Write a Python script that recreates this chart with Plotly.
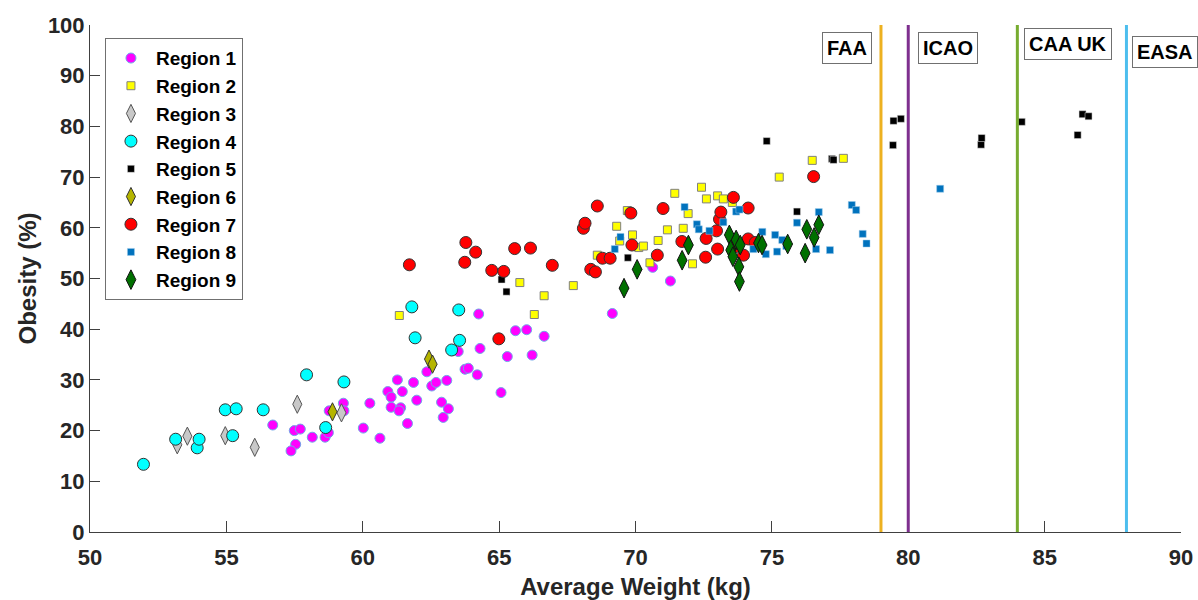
import plotly.graph_objects as go

# ---- data ----
r1_x = [56.70,57.49,57.71,57.54,57.37,58.15,58.62,58.74,58.77,59.29,59.31,60.02,60.26,60.63,60.92,61.04,61.04,61.27,61.45,61.39,61.33,61.64,61.86,61.98,62.35,62.53,62.69,63.08,62.89,63.14,62.95,63.50,63.75,63.87,64.20,64.25,64.30,65.07,65.30,65.60,66.01,66.21,66.65,69.15,70.63,71.28]
r1_y = [21.1,20.0,20.3,17.3,16.0,18.7,18.7,19.6,23.9,25.4,23.9,20.5,25.4,18.5,27.7,26.6,24.6,30.0,27.7,24.5,23.9,21.4,29.5,26.0,31.6,28.8,29.5,29.9,25.6,24.3,22.6,35.6,32.1,32.3,31.0,43.0,36.2,27.5,34.6,39.7,39.9,34.9,38.6,43.1,52.2,49.5]

r2_x = [61.34,65.76,66.65,66.29,67.72,68.60,69.31,69.42,69.70,69.89,70.12,70.29,70.53,70.83,71.17,71.44,71.75,71.93,72.09,72.42,72.60,73.01,73.22,73.55,75.27,76.48,77.62]
r2_y = [42.7,49.2,46.6,42.9,48.6,54.6,60.3,57.4,63.4,58.6,56.1,56.4,53.1,57.5,59.6,66.8,59.9,62.8,52.9,68.0,65.7,66.3,65.7,65.0,70.0,73.3,73.7]

r3_x = [53.20,53.57,54.96,56.04,57.60,59.22]
r3_y = [17.2,18.9,19.0,16.7,25.2,23.5]

r4_x = [51.96,53.14,53.93,54.00,54.96,55.23,55.36,56.35,57.94,58.64,59.31,61.80,61.92,63.26,63.52,63.55]
r4_y = [13.35,18.3,16.6,18.3,24.1,19.0,24.3,24.1,31.0,20.6,29.6,44.4,38.3,35.9,43.8,37.8]

r5_x = [65.09,65.27,69.72,74.81,75.92,77.20,77.26,79.44,79.46,79.73,82.67,82.69,84.16,86.21,86.39,86.61]
r5_y = [49.8,47.4,54.1,77.1,63.2,73.6,73.4,76.3,81.1,81.5,76.4,77.7,80.9,78.3,82.4,82.0]

r6_x = [58.89,62.43,62.56]
r6_y = [23.7,34.1,33.1]

r7_x = [61.71,63.74,63.78,64.14,64.73,64.99,65.17,65.57,66.15,66.95,68.09,68.15,68.36,68.53,68.60,68.79,69.07,69.83,69.87,70.80,71.01,71.70,72.57,72.59,72.97,73.01,73.08,73.13,73.59,73.67,73.96,74.13,74.13,74.39,76.53]
r7_y = [52.7,53.2,57.1,55.2,51.6,38.1,51.4,55.9,56.0,52.6,59.9,60.9,51.8,51.3,64.3,54.0,54.0,62.9,56.6,54.6,63.8,57.3,54.2,57.9,59.4,55.8,61.7,63.1,66.0,56.3,54.6,63.9,57.8,57.1,70.1]

r8_x = [69.24,69.45,71.80,72.25,72.32,72.71,73.22,73.69,73.81,74.32,74.65,74.78,75.12,75.19,75.38,75.53,75.92,76.62,76.72,77.13,77.93,78.09,78.33,78.47,81.17]
r8_y = [55.8,58.2,64.1,60.7,59.7,59.4,61.1,63.2,63.6,55.8,59.2,54.8,58.6,55.3,57.6,56.4,61.0,55.8,63.1,55.6,64.5,63.5,58.8,56.9,67.7]

r9_x = [69.58,70.06,71.71,71.94,73.44,73.69,73.84,73.49,73.57,73.79,73.81,74.51,74.64,75.58,76.22,76.28,76.55,76.72]
r9_y = [48.1,51.8,53.6,56.6,58.6,57.6,56.6,55.6,54.3,52.3,49.4,57.0,56.6,56.8,55.0,59.7,58.1,60.6]

limit_names = ["FAA", "ICAO", "CAA UK", "EASA"]
limit_weights = [79, 80, 84, 88]
limit_colors = ["#EDB120", "#7E2F8E", "#77AC30", "#4DBEEE"]

x_ticks = [50, 55, 60, 65, 70, 75, 80, 85, 90]
y_ticks = [0, 10, 20, 30, 40, 50, 60, 70, 80, 90, 100]

FONT = "Liberation Sans, Arial, sans-serif"

series = [
    ("Region 1", r1_x, r1_y, dict(symbol="circle", size=10, color="#FF00FF", line=dict(color="#6FA8E8", width=1))),
    ("Region 2", r2_x, r2_y, dict(symbol="square", size=8, color="#FFFF00", line=dict(color="#808080", width=1))),
    ("Region 3", r3_x, r3_y, dict(symbol="diamond-tall", size=13, color="#C8C8C8", line=dict(color="#555555", width=1))),
    ("Region 4", r4_x, r4_y, dict(symbol="circle", size=12, color="#00FFFF", line=dict(color="#333333", width=1))),
    ("Region 5", r5_x, r5_y, dict(symbol="square", size=7, color="#000000", line=dict(color="#DDDDDD", width=0.5))),
    ("Region 6", r6_x, r6_y, dict(symbol="diamond-tall", size=13, color="#B5B500", line=dict(color="#333333", width=1))),
    ("Region 7", r7_x, r7_y, dict(symbol="circle", size=12, color="#FF0000", line=dict(color="#333333", width=1))),
    ("Region 8", r8_x, r8_y, dict(symbol="square", size=7, color="#0072BD", line=dict(color="#9CCBEB", width=0.5))),
    ("Region 9", r9_x, r9_y, dict(symbol="diamond-tall", size=14, color="#007000", line=dict(color="#111111", width=1))),
]

fig = go.Figure()
for name, xs, ys, mk in series:
    fig.add_trace(go.Scatter(x=xs, y=ys, mode="markers", name=name, marker=mk, cliponaxis=False))

# regulatory weight limits
label_offsets = [(-1.25, 95.5, "center"), (1.47, 95.4, "center"), (1.87, 96.2, "center"), (0.22, 94.7, "left")]
for nm, w, c, (dx, yy, anc) in zip(limit_names, limit_weights, limit_colors, label_offsets):
    fig.add_shape(type="line", xref="x", yref="paper", x0=w, x1=w, y0=0, y1=1,
                  line=dict(color=c, width=3), layer="above")
    fig.add_annotation(x=w + dx, y=yy, xref="x", yref="y", text="<b>%s</b>" % nm,
                       showarrow=False, xanchor=anc, yanchor="middle",
                       font=dict(family=FONT, size=20, color="#000000"),
                       bgcolor="white", bordercolor="#707070", borderwidth=1, borderpad=4)

fig.update_layout(
    width=1198, height=600,
    margin=dict(l=90, r=17, t=25, b=68, autoexpand=False),
    plot_bgcolor="white", paper_bgcolor="white",
    font=dict(family=FONT, size=22, color="#262626"),
    showlegend=True,
    legend=dict(x=0.0137, y=0.974, xanchor="left", yanchor="top",
                bgcolor="white", bordercolor="#707070", borderwidth=1,
                font=dict(family=FONT, size=19, color="#000000", weight="bold"),
                itemsizing="trace", itemwidth=40, traceorder="normal"),
    xaxis=dict(range=[50, 90], tickvals=x_ticks, ticktext=["<b>%d</b>" % v for v in x_ticks],
               ticks="inside", ticklen=11, tickcolor="#404040", tickwidth=1,
               showline=True, linecolor="#404040", linewidth=1, showgrid=False, zeroline=False,
               automargin=False, ticklabelstandoff=6,
               tickfont=dict(family=FONT, size=22, color="#262626"),
               title=dict(text="<b>Average Weight (kg)</b>", font=dict(family=FONT, size=24, color="#262626"), standoff=12)),
    yaxis=dict(range=[0, 100], tickvals=y_ticks, ticktext=["<b>%d</b>" % v for v in y_ticks],
               ticks="inside", ticklen=10, tickcolor="#404040", tickwidth=1,
               showline=True, linecolor="#404040", linewidth=1, showgrid=False, zeroline=False,
               automargin=False,
               tickfont=dict(family=FONT, size=22, color="#262626"),
               title=dict(text="<b>Obesity (%)</b>", font=dict(family=FONT, size=24, color="#262626"), standoff=4)),
)

fig.write_html("out.html")
